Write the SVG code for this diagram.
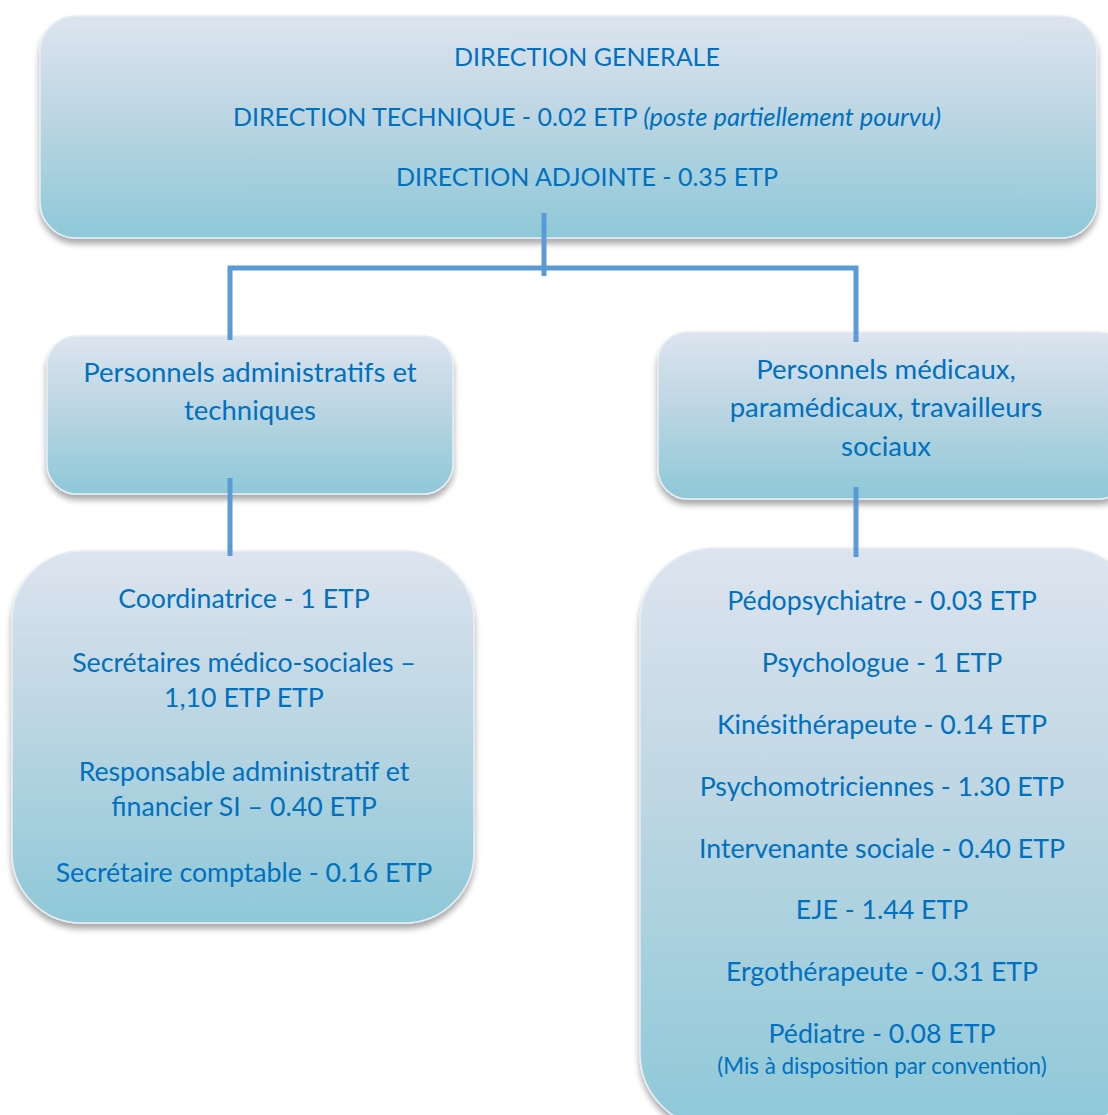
<svg xmlns="http://www.w3.org/2000/svg" width="1108" height="1115" viewBox="0 0 1108 1115">
<defs>
<linearGradient id="g" x1="0" y1="0" x2="0" y2="1">
<stop offset="0" stop-color="#dde4ef"/>
<stop offset="0.45" stop-color="#bcd6e2"/>
<stop offset="1" stop-color="#8ec8d8"/>
</linearGradient>
<filter id="sh" x="-10%" y="-10%" width="120%" height="130%">
<feGaussianBlur in="SourceAlpha" stdDeviation="3"/>
<feOffset dx="0" dy="5"/>
<feComponentTransfer><feFuncA type="linear" slope="0.35"/></feComponentTransfer>
<feMerge><feMergeNode/><feMergeNode in="SourceGraphic"/></feMerge>
</filter>
<style>
.box{fill:url(#g);stroke:#e6edf3;stroke-width:1.5;filter:url(#sh)}
.t{font-family:Lato,"Liberation Sans",sans-serif;font-size:26.7px;fill:#0070c0;text-anchor:middle}
.top{font-size:25px}
.mid{font-size:27.5px}
.s{font-size:22.4px}
.i{font-style:italic;font-size:25.5px}
.c{stroke:#5b9bd5;stroke-width:5;fill:none}
</style>
</defs>
<rect width="1108" height="1115" fill="#ffffff"/>
<g id="direction">
<rect class="box" x="40" y="16" width="1057" height="222" rx="36"/>
<text class="t top" x="587" y="66">DIRECTION GENERALE</text>
<text class="t top" x="587" y="126">DIRECTION TECHNIQUE - 0.02 ETP <tspan class="i">(poste partiellement pourvu)</tspan></text>
<text class="t top" x="587" y="186">DIRECTION ADJOINTE - 0.35 ETP</text>
</g>
<g id="admin">
<rect class="box" x="47" y="336" width="406" height="158" rx="30"/>
<text class="t mid" x="250" y="382">Personnels administratifs et</text>
<text class="t mid" x="250" y="420">techniques</text>
</g>
<g id="medical">
<rect class="box" x="658" y="332" width="470" height="167" rx="30"/>
<text class="t mid" x="886" y="379">Personnels médicaux,</text>
<text class="t mid" x="886" y="417">paramédicaux, travailleurs</text>
<text class="t mid" x="886" y="456">sociaux</text>
</g>
<g id="admin-staff">
<rect class="box" x="12" y="551" width="462" height="372" rx="70"/>
<text class="t" x="244" y="608">Coordinatrice - 1 ETP</text>
<text class="t" x="244" y="672">Secrétaires médico-sociales –</text>
<text class="t" x="244" y="707">1,10 ETP ETP</text>
<text class="t" x="244" y="781">Responsable administratif et</text>
<text class="t" x="244" y="816">financier SI – 0.40 ETP</text>
<text class="t" x="244" y="882">Secrétaire comptable - 0.16 ETP</text>
</g>
<g id="medical-staff">
<rect class="box" x="640" y="548" width="500" height="580" rx="75"/>
<text class="t" x="882" y="610">Pédopsychiatre - 0.03 ETP</text>
<text class="t" x="882" y="672">Psychologue - 1 ETP</text>
<text class="t" x="882" y="734">Kinésithérapeute - 0.14 ETP</text>
<text class="t" x="882" y="796">Psychomotriciennes - 1.30 ETP</text>
<text class="t" x="882" y="858">Intervenante sociale - 0.40 ETP</text>
<text class="t" x="882" y="919">EJE - 1.44 ETP</text>
<text class="t" x="882" y="981">Ergothérapeute - 0.31 ETP</text>
<text class="t" x="882" y="1043">Pédiatre - 0.08 ETP</text>
<text class="t s" x="882" y="1074">(Mis à disposition par convention)</text>
</g>
<g id="connectors">
<path class="c" d="M544 213 V276"/>
<path class="c" d="M230 340 V268 H856 V342"/>
<path class="c" d="M230 478 V556"/>
<path class="c" d="M856 487 V557"/>
</g>
</svg>
